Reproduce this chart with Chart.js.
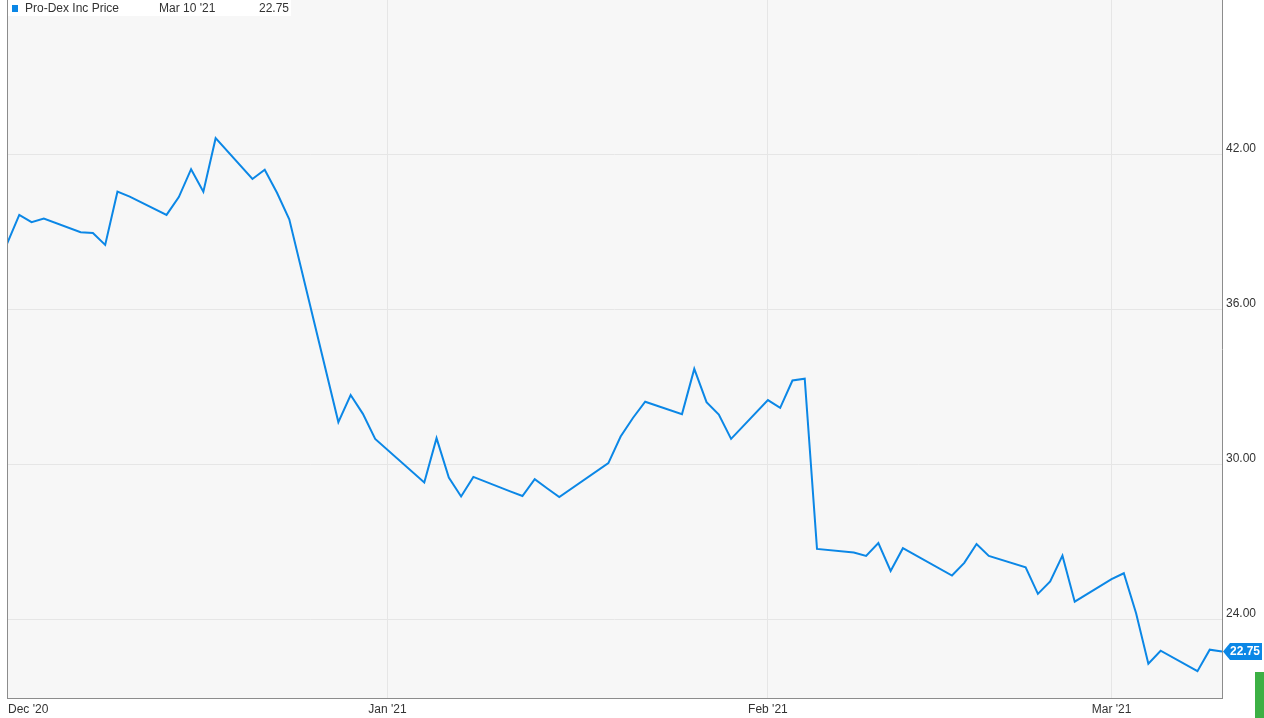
<!DOCTYPE html>
<html>
<head>
<meta charset="utf-8">
<script src="https://cdn.jsdelivr.net/npm/chart.js@4/dist/chart.umd.min.js"></script>
<style>
  html, body { margin: 0; padding: 0; background: #fff; }
  #wrap { width: 1264px; height: 718px; }
</style>
</head>
<body>
<div id="wrap"><canvas id="priceChart" width="1264" height="718"></canvas></div>
<script>
// Trading days and closing prices
const tradeDates = [
  '2020-12-01','2020-12-02','2020-12-03','2020-12-04',
  '2020-12-07','2020-12-08','2020-12-09','2020-12-10','2020-12-11',
  '2020-12-14','2020-12-15','2020-12-16','2020-12-17','2020-12-18',
  '2020-12-21','2020-12-22','2020-12-23','2020-12-24',
  '2020-12-28','2020-12-29','2020-12-30','2020-12-31',
  '2021-01-04','2021-01-05','2021-01-06','2021-01-07','2021-01-08',
  '2021-01-11','2021-01-12','2021-01-13','2021-01-14','2021-01-15',
  '2021-01-19','2021-01-20','2021-01-21','2021-01-22',
  '2021-01-25','2021-01-26','2021-01-27','2021-01-28','2021-01-29',
  '2021-02-01','2021-02-02','2021-02-03','2021-02-04','2021-02-05',
  '2021-02-08','2021-02-09','2021-02-10','2021-02-11','2021-02-12',
  '2021-02-16','2021-02-17','2021-02-18','2021-02-19',
  '2021-02-22','2021-02-23','2021-02-24','2021-02-25','2021-02-26',
  '2021-03-01','2021-03-02','2021-03-03','2021-03-04','2021-03-05',
  '2021-03-08','2021-03-09','2021-03-10'
];
const prices = [
  38.53, 39.65, 39.37, 39.51,
  38.98, 38.95, 38.49, 40.55, 40.36,
  39.65, 40.34, 41.42, 40.55, 42.62,
  41.04, 41.40, 40.51, 39.48,
  31.63, 32.68, 31.95, 30.98,
  29.29, 31.01, 29.48, 28.75, 29.51,
  28.95, 28.77, 29.42, 29.07, 28.73,
  30.04, 31.07, 31.79, 32.42,
  31.94, 33.69, 32.40, 31.92, 30.98,
  32.48, 32.18, 33.24, 33.31, 26.72,
  26.58, 26.45, 26.95, 25.87, 26.75,
  25.69, 26.18, 26.91, 26.45,
  26.01, 24.98, 25.46, 26.46, 24.68,
  25.55, 25.78, 24.23, 22.28, 22.78,
  21.99, 22.82, 22.75
];
const monthDates = ['2020-12-01', '2021-01-01', '2021-02-01', '2021-03-01'];
const monthLabels = ["Dec '20", "Jan '21", "Feb '21", "Mar '21"];
const yTicks = [24, 30, 36, 42];

const seriesName = 'Pro-Dex Inc Price';
const lastDateLabel = "Mar 10 '21";
const lineColor = '#0b87e6';
const FONT = '"Liberation Sans", Arial, sans-serif';

// day offset from the first date, so the linear x scale keeps calendar gaps
const startMs = Date.UTC(2020, 11, 1);
const dayOf = s => {
  const [y, m, d] = s.split('-').map(Number);
  return Math.round((Date.UTC(y, m - 1, d) - startMs) / 86400000);
};
const points = tradeDates.map((d, i) => ({ x: dayOf(d), y: prices[i] }));
const lastX = dayOf(tradeDates[tradeDates.length - 1]);
const lastPrice = prices[prices.length - 1];

// no auto padding from the scales, the plot box is pinned to the canvas
const noPad = axis => {
  axis.paddingTop = 0;
  axis.paddingBottom = 0;
  axis.paddingLeft = 0;
  axis.paddingRight = 0;
};

const decorPlugin = {
  id: 'decor',
  beforeDraw(chart) {
    const { ctx, chartArea: a } = chart;
    ctx.save();
    ctx.fillStyle = '#ffffff';
    ctx.fillRect(0, 0, chart.width, chart.height);
    ctx.fillStyle = '#f7f7f7';
    ctx.fillRect(a.left, a.top, a.right - a.left, a.bottom - a.top);
    ctx.restore();
  },
  afterDraw(chart) {
    const { ctx, chartArea: a, scales } = chart;
    ctx.save();

    // left frame line
    ctx.strokeStyle = '#8c8c8c';
    ctx.lineWidth = 1;
    ctx.beginPath();
    ctx.moveTo(a.left + 0.5, a.top);
    ctx.lineTo(a.left + 0.5, a.bottom);
    ctx.stroke();

    // month labels under the axis
    ctx.font = '12px ' + FONT;
    ctx.fillStyle = '#333333';
    ctx.textBaseline = 'middle';
    ctx.textAlign = 'left';
    monthDates.forEach((d, i) => {
      const px = scales.x.getPixelForValue(dayOf(d));
      const w = ctx.measureText(monthLabels[i]).width;
      let left = px - w / 2;
      if (left < a.left + 1) left = a.left + 1;
      ctx.fillText(monthLabels[i], left, a.bottom + 11.5);
    });

    // legend strip
    ctx.fillStyle = '#ffffff';
    ctx.fillRect(a.left + 1, 0, 283, 16);
    ctx.fillStyle = lineColor;
    ctx.fillRect(12, 5, 6, 7);
    ctx.fillStyle = '#333333';
    ctx.font = '12px ' + FONT;
    ctx.textBaseline = 'middle';
    ctx.textAlign = 'left';
    ctx.fillText(seriesName, 25, 9);
    ctx.fillText(lastDateLabel, 159, 9);
    ctx.textAlign = 'right';
    ctx.fillText(lastPrice.toFixed(2), 289, 9);

    // last price badge
    const by = scales.y.getPixelForValue(lastPrice);
    const bx = scales.x.getPixelForValue(lastX);
    ctx.fillStyle = lineColor;
    ctx.beginPath();
    ctx.moveTo(bx + 1, by);
    ctx.lineTo(bx + 8, by - 8.5);
    ctx.lineTo(1262, by - 8.5);
    ctx.lineTo(1262, by + 8.5);
    ctx.lineTo(bx + 8, by + 8.5);
    ctx.closePath();
    ctx.fill();
    ctx.fillStyle = '#ffffff';
    ctx.font = 'bold 12px ' + FONT;
    ctx.textAlign = 'center';
    ctx.fillText(lastPrice.toFixed(2), 1245, by + 0.5);

    // small green marker in the corner
    ctx.fillStyle = '#3cb044';
    ctx.fillRect(1255, 672, 9, 46);

    ctx.restore();
  }
};

new Chart(document.getElementById('priceChart'), {
  type: 'line',
  data: {
    datasets: [{
      label: seriesName,
      data: points,
      borderColor: lineColor,
      borderWidth: 2,
      pointRadius: 0,
      tension: 0,
      fill: false
    }]
  },
  options: {
    responsive: false,
    animation: false,
    events: [],
    layout: { padding: { left: 7, top: 0, right: 0, bottom: 0 } },
    plugins: {
      legend: { display: false },
      tooltip: { enabled: false }
    },
    scales: {
      x: {
        type: 'linear',
        min: 0,
        max: lastX,
        afterBuildTicks: axis => { axis.ticks = monthDates.map(d => ({ value: dayOf(d) })); },
        afterFit: axis => { axis.height = 20; noPad(axis); },
        ticks: { display: false },
        grid: { color: '#e6e6e6', drawTicks: false },
        border: { color: '#8c8c8c' }
      },
      y: {
        position: 'right',
        min: 20.95,
        max: 47.97,
        afterBuildTicks: axis => { axis.ticks = yTicks.map(v => ({ value: v })); },
        afterFit: axis => { axis.width = 42; noPad(axis); },
        ticks: {
          padding: 4,
          labelOffset: -6,
          color: '#333333',
          font: { family: FONT, size: 12 },
          callback: v => Number(v).toFixed(2)
        },
        grid: { color: '#e6e6e6', drawTicks: false },
        border: { color: '#8c8c8c' }
      }
    }
  },
  plugins: [decorPlugin]
});
</script>
</body>
</html>
